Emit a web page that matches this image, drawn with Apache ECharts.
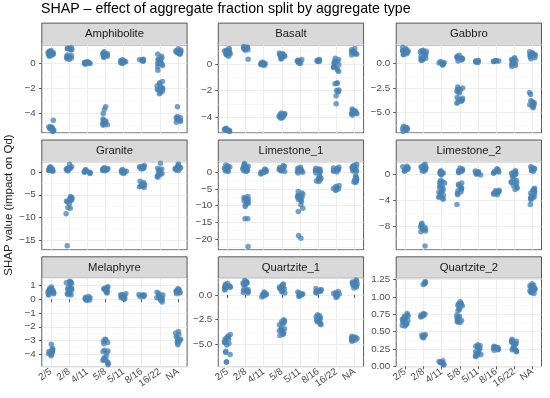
<!DOCTYPE html>
<html><head><meta charset="utf-8">
<script src="https://cdn.jsdelivr.net/npm/echarts@6/dist/echarts.min.js"></script>
<style>html,body{margin:0;padding:0;background:#fff}#c{width:550px;height:398px}</style>
</head><body><div id="c"></div>
<script>
const categories = ['2/5','2/8','4/11','5/8','5/11','8/16','16/22','NA'];
const panelNames = ['Amphibolite','Basalt','Gabbro','Granite','Limestone_1','Limestone_2','Melaphyre','Quartzite_1','Quartzite_2'];

const amphibolite = [
  [1.05,0.95,0.9,0.85,0.8,0.75,0.7,0.65,0.6,0.9,0.8,0.7,1.0,0.75,-4.6,-5.1,-5.15,-5.2,-5.25,-5.3,-5.35,-5.4,-5.45,-5.5,-5.2,-5.3],
  [1.3,1.25,1.2,1.15,1.1,1.25,1.2,0.7,0.6,0.55,0.5,0.45,0.4,0.35,0.65,0.5],
  [0.15,0.1,0.05,0.0,-0.05,0.1,0.05,0.0,0.08,0.02],
  [0.95,0.85,0.8,0.75,0.7,0.65,0.6,0.55,0.5,0.8,0.7,0.6,-3.5,-3.7,-4.05,-4.5,-4.6,-4.7,-4.8,-4.9,-5.0,-4.65,-4.85,-4.95],
  [0.3,0.25,0.2,0.15,0.1,0.05,0.0,0.2,0.15,0.1],
  [0.35,0.3,0.25,0.2,0.3,0.25,0.2,0.28],
  [0.75,0.6,0.45,0.35,0.25,0.15,0.05,-0.05,-0.15,-0.25,0.3,0.1,0.0,-0.55,-1.45,-1.55,-1.65,-1.8,-1.95,-2.05,-2.15,-2.25,-2.35,-2.45,-1.9,-2.1],
  [1.2,1.1,1.05,1.0,0.95,0.9,0.85,0.8,0.75,1.0,0.9,-3.5,-4.3,-4.4,-4.5,-4.55,-4.6,-4.7,-4.75,-4.5,-4.4]
];
const basalt = [
  [1.2,1.1,1.05,1.0,0.95,0.9,0.85,0.8,0.75,0.7,0.6,1.0,0.9,0.8,-4.85,-4.9,-4.95,-5.0,-5.05,-5.1,-4.95,-5.0],
  [1.35,1.3,1.25,1.2,1.15,1.1,1.05,1.25,1.2,0.38],
  [0.15,0.1,0.05,0.0,-0.05,-0.1,0.05,0.0,0.1],
  [0.85,0.8,0.75,0.7,0.65,0.6,0.55,0.5,0.45,0.4,0.7,0.6,-3.7,-3.75,-3.8,-3.85,-3.9,-3.95,-4.0,-4.05,-4.1,-3.8,-3.9,-4.0],
  [0.35,0.3,0.25,0.2,0.15,0.1,0.05,0.25,0.2],
  [0.35,0.3,0.25,0.2,0.3,0.25,0.28,0.22],
  [0.45,0.35,0.25,0.15,0.05,-0.05,-0.15,-0.25,-0.35,-0.45,-0.55,0.2,0.0,-0.2,-1.42,-1.45,-1.48,-1.95,-2.0,-2.05,-2.1,-2.4,-3.0],
  [1.2,1.1,1.0,0.95,0.9,0.85,0.8,0.75,0.7,0.9,0.85,-3.4,-3.5,-3.55,-3.6,-3.65,-3.7,-3.75,-3.8,-3.85,-3.6,-3.7]
];
const gabbro = [
  [1.65,1.5,1.4,1.3,1.25,1.2,1.15,1.1,1.0,0.95,0.9,1.3,1.2,-6.4,-6.5,-6.55,-6.6,-6.65,-6.7,-6.8,-6.9,-6.6,-6.7],
  [1.35,1.3,1.25,1.2,1.15,1.1,1.0,0.9,0.75,0.65,0.55,0.45,0.35,0.3,0.5,0.4],
  [0.2,0.1,0.05,0.0,-0.05,-0.1,-0.15,0.05,0.0],
  [0.85,0.75,0.65,0.55,0.45,0.35,0.25,0.6,0.5,-2.4,-2.5,-2.6,-2.7,-2.8,-2.9,-3.0,-2.65,-3.45,-3.55,-3.65,-3.75,-3.85,-3.95,-4.05,-3.7],
  [0.3,0.25,0.2,0.15,0.1,0.25,0.2,0.15],
  [0.3,0.25,0.2,0.28,0.22,0.25],
  [0.6,0.5,0.4,0.3,0.2,0.1,0.0,-0.1,-0.2,-0.3,0.3,0.1,0.0],
  [1.2,1.1,1.0,0.95,0.9,0.85,0.8,0.7,0.6,0.5,0.9,-2.95,-3.15,-3.8,-3.9,-4.0,-4.1,-4.2,-4.3,-4.4,-4.5,-4.2]
];
const granite = [
  [1.2,1.0,0.9,0.8,0.7,0.6,0.5,0.4,0.3,0.2,0.8,0.6],
  [1.75,1.2,1.0,0.9,0.8,0.7,0.6,0.5,0.4,0.3,0.8,-5.4,-5.6,-5.8,-6.0,-6.2,-6.4,-6.6,-6.0,-6.3,-7.0,-7.8,-8.0,-9.2,-16.3],
  [0.6,0.4,0.2,0.1,0.0,-0.1,-0.3,0.2,0.0],
  [1.0,0.9,0.8,0.7,0.6,0.5,0.4,0.3,0.6,0.5],
  [0.6,0.4,0.2,0.1,0.0,-0.1,-0.3,0.2,0.0],
  [1.5,1.3,1.2,1.1,1.0,0.9,0.8,0.7,1.0,-2.0,-2.3,-2.6,-2.8,-3.0,-3.2,-3.4,-2.7,-2.9,-3.1],
  [2.0,0.9,0.7,0.5,0.3,0.1,-0.1,-0.3,-0.5,-0.7,-0.9,-1.1,0.2,-0.2],
  [1.8,1.5,1.3,1.1,1.0,0.9,0.8,0.7,0.5,0.4,1.0]
];
const limestone1 = [
  [2.2,1.9,1.6,1.4,1.2,1.0,0.8,0.6,0.4,0.2,1.0,0.7],
  [2.6,2.3,2.0,1.8,1.6,1.4,1.2,1.0,0.8,0.6,0.4,0.2,1.5,1.0,-7.3,-7.6,-7.9,-8.2,-8.5,-8.8,-9.1,-9.3,-8.0,-8.6,-9.8,-10.3,-14.0,-14.0,-22.3],
  [1.0,0.7,0.5,0.3,0.1,-0.1,-0.3,-0.5,0.2,0.0],
  [2.0,1.7,1.4,1.2,1.0,0.8,0.6,0.4,0.2,1.0,0.8],
  [1.5,1.2,1.0,0.8,0.6,0.4,0.2,0.0,-0.2,0.6,-5.8,-6.2,-6.6,-7.0,-7.3,-7.6,-7.9,-8.2,-8.5,-8.8,-7.0,-7.5,-9.8,-10.8,-11.8,-19.0,-19.8],
  [1.2,1.0,0.8,0.6,0.4,0.2,0.0,-0.2,0.5,-1.1,-1.4,-1.7,-2.0,-2.3,-2.6,-2.8,-1.9],
  [1.5,1.3,1.1,0.9,0.7,0.5,0.3,0.1,0.8,-4.0,-4.3,-4.6,-4.9,-5.2,-5.5,-4.8,-5.0],
  [2.4,2.1,1.8,1.6,1.4,1.2,1.0,0.8,0.6,0.4,0.2,1.5,-1.1,-1.4,-1.7,-2.0,-2.3,-2.6,-2.9,-3.1,-2.0]
];
const limestone2 = [
  [1.2,1.1,1.0,0.9,0.8,0.7,0.6,0.5,0.4,0.8,0.7],
  [1.5,1.35,1.2,1.1,1.0,0.9,0.8,0.7,0.6,0.5,0.4,1.0,-7.6,-7.8,-8.0,-8.2,-8.4,-8.6,-8.8,-8.9,-8.2,-8.5,-11.1],
  [0.5,0.35,0.25,0.15,0.05,-0.05,-0.15,0.2,-1.0,-1.2,-1.4,-1.6,-1.9,-2.1,-2.3,-2.6,-2.8,-3.0,-3.3,-3.5,-3.7,-3.9,-1.3,-2.0,-2.8,-3.6],
  [0.9,0.75,0.6,0.5,0.4,0.3,0.2,0.6,-1.4,-1.6,-1.8,-2.0,-2.2,-2.4,-2.6,-2.8,-3.0,-3.2,-2.3,-4.7],
  [0.45,0.35,0.25,0.15,0.05,-0.05,-0.15,0.2,0.1],
  [0.8,0.65,0.5,0.4,0.3,0.2,0.1,0.5,-2.5,-2.6,-2.7,-2.8,-2.9,-3.0,-3.1,-3.2,-2.8],
  [0.5,0.35,0.2,0.05,-0.1,-0.25,-0.4,0.1,-0.8,-1.0,-1.2,-1.4,-1.6,-1.8,-2.0,-2.2,-2.4,-1.3],
  [1.1,0.95,0.8,0.7,0.6,0.5,0.4,0.8,-2.2,-2.35,-2.5,-2.65,-2.8,-2.95,-3.1,-2.6,-3.4,-3.5,-3.6,-3.7,-3.8,-4.0,-4.7]
];
const melaphyre = [
  [0.88,0.8,0.75,0.7,0.65,0.6,0.55,0.5,0.45,0.4,0.35,0.3,0.6,-3.26,-3.55,-3.65,-3.7,-3.75,-3.8,-3.85,-3.9,-3.95,-4.0,-4.1,-3.8],
  [1.3,1.25,1.2,1.15,1.1,1.2,0.85,0.8,0.75,0.7,0.65,0.5,0.45,0.4,0.35,0.3,0.75,0.45],
  [0.2,0.15,0.1,0.05,0.0,-0.05,-0.1,0.05],
  [0.9,0.85,0.8,0.75,0.7,0.65,0.6,0.55,0.5,0.45,0.7,-2.9,-2.95,-3.05,-3.15,-3.24,-3.7,-3.75,-3.8,-3.9,-4.15,-4.25,-4.35,-4.45,-4.55,-4.65,-4.75,-4.4],
  [0.4,0.35,0.3,0.25,0.2,0.15,0.1,0.05,0.0,0.2],
  [0.35,0.3,0.25,0.2,0.3,0.25,0.2],
  [0.5,0.4,0.3,0.2,0.1,0.0,-0.1,-0.2,0.3,0.1,0.0],
  [0.75,0.7,0.65,0.6,0.55,0.5,0.45,0.4,0.6,-2.35,-2.45,-2.55,-2.7,-2.8,-2.9,-3.0,-3.1,-3.2,-3.3,-2.95,-3.05]
];
const quartzite1 = [
  [1.15,1.05,0.95,0.9,0.85,0.8,0.75,0.7,0.6,0.5,0.9,0.8,-4.0,-4.15,-4.3,-4.45,-4.6,-4.75,-4.9,-5.05,-4.3,-4.5,-4.8,-5.67,-5.8,-6.0,-6.77,-6.77],
  [1.45,1.35,1.25,1.2,1.15,1.05,1.0,1.2,0.65,0.55,0.45,0.35,0.25,0.2,0.4,0.45],
  [0.3,0.2,0.1,0.05,0.0,-0.1,-0.2,0.05,0.0],
  [1.1,1.0,0.9,0.8,0.7,0.6,0.5,0.4,0.3,0.2,0.8,0.6,-2.5,-2.6,-2.7,-2.8,-2.9,-3.0,-2.75,-3.3,-3.4,-3.5,-3.6,-3.7,-3.8,-3.9,-4.0,-4.1,-3.6],
  [0.3,0.2,0.1,0.05,0.0,-0.1,-0.15,0.1],
  [0.65,0.55,0.45,0.4,0.35,0.25,0.2,0.45,-2.0,-2.1,-2.2,-2.3,-2.4,-2.5,-2.6,-2.7,-2.8,-2.9,-3.0,-2.5],
  [0.35,0.25,0.15,0.05,-0.05,-0.15,-0.25,0.1,0.0],
  [1.5,1.4,1.3,1.2,1.1,1.0,0.9,0.8,0.7,1.2,1.0,-4.17,-4.25,-4.3,-4.35,-4.4,-4.45,-4.5,-4.55,-4.6,-4.67,-4.4]
];
const quartzite2 = [
  [0.76,0.74,0.72,0.7,0.69,0.68,0.67,0.66,0.65,0.64,0.72,0.7,0.62,0.61,0.6,0.59,0.58],
  [1.22,1.21,1.2,1.19,1.18,0.76,0.75,0.74,0.73,0.72,0.71,0.74,0.46,0.45,0.44,0.43,0.42,0.41],
  [0.08,0.07,0.06,0.05,0.04,0.03,0.02,0.06,0.05],
  [0.93,0.91,0.9,0.89,0.88,0.87,0.84,0.82,0.8,0.74,0.72,0.7,0.69,0.68,0.67,0.66,0.65,0.64,0.63,0.7],
  [0.31,0.3,0.29,0.28,0.27,0.26,0.25,0.21,0.2,0.19,0.18,0.17,0.16,0.15,0.14],
  [0.29,0.28,0.27,0.26,0.25,0.24,0.23,0.27],
  [0.39,0.37,0.36,0.35,0.34,0.33,0.32,0.31,0.3,0.35,0.26,0.25,0.24,0.23,0.22,0.21],
  [1.19,1.17,1.16,1.15,1.14,1.13,1.12,1.11,1.1,1.09,1.08,1.07,1.06,1.05,1.13]
];
const panelData = [amphibolite, basalt, gabbro, granite, limestone1, limestone2, melaphyre, quartzite1, quartzite2];

// y axis ranges: [min, max, tick step, label decimals]
const yMin = [-5.62, -5.21, -7.07, -17.2, -23.3, -11.7, -4.89, -7.23, -0.004];
const yMax = [1.53, 1.48, 1.92, 2.35, 3.2, 1.9, 1.51, 1.67, 1.267];
const yStep = [2, 2, 2.5, 5, 5, 4, 1, 2.5, 0.25];
const yDec = [0, 0, 1, 0, 0, 0, 0, 1, 2];

const FONT = 'Liberation Sans, Arial, sans-serif';
const colLeft = [41.8, 218.3, 396.2];
const panelW = 145.3;
const rowTop = [44.7, 161.6, 278.4];
const panelH = 88.2;
const stripH = 21.6;

const grids = [], xAxes = [], yAxes = [], series = [], graphics = [];

graphics.push({type:'text', left: 41, top: 2, style:{text:'SHAP \u2013 effect of aggregate fraction split by aggregate type', font:'14.2px ' + FONT, fill:'#000'}});
graphics.push({type:'text', x: 3, y: 205, rotation: Math.PI/2, style:{text:'SHAP value (impact on Qd)', font:'11.5px ' + FONT, fill:'#1a1a1a', align:'center', verticalAlign:'top'}});

for (let p = 0; p < 9; p++) {
  const r = Math.floor(p / 3), c = p % 3;
  const bottomRow = r === 2;
  grids.push({left: colLeft[c], top: rowTop[r], width: panelW, height: panelH, show: true, borderColor: '#333', borderWidth: 0.8, backgroundColor: 'transparent', containLabel: false});
  xAxes.push({
    type: 'category', gridIndex: p, data: categories, boundaryGap: true,
    jitter: 6, jitterOverlap: true,
    axisLine: {show: false},
    axisTick: {show: bottomRow, alignWithLabel: true, length: 3, lineStyle: {color: '#333', width: 0.8}},
    axisLabel: {show: bottomRow, rotate: 35, fontSize: 9.8, color: '#4d4d4d', fontFamily: FONT, margin: 4, interval: 0},
    splitLine: {show: true, alignWithLabel: true, interval: 0, lineStyle: {color: '#ebebeb', width: 0.9}}
  });
  const dec = yDec[p];
  yAxes.push({
    type: 'value', gridIndex: p, min: yMin[p], max: yMax[p],
    minInterval: yStep[p], maxInterval: yStep[p],
    axisLine: {show: false},
    axisTick: {show: true, length: 3, lineStyle: {color: '#333', width: 0.8}},
    axisLabel: {fontSize: 9.8, color: '#4d4d4d', fontFamily: FONT, margin: 6, showMinLabel: false, showMaxLabel: false,
      formatter: v => { const s = Math.abs(v) < 1e-9 ? (0).toFixed(dec) : Number(v).toFixed(dec); return s.replace('-', '\u2212'); }},
    splitLine: {show: true, lineStyle: {color: '#ebebeb', width: 0.9}},
    minorTick: {show: false, splitNumber: 2},
    minorSplitLine: {show: true, lineStyle: {color: '#f3f3f3', width: 0.6}}
  });
  const pts = [];
  panelData[p].forEach((vals, i) => vals.forEach(v => pts.push([categories[i], v])));
  series.push({
    type: 'scatter', xAxisIndex: p, yAxisIndex: p, data: pts,
    symbolSize: 5.5, itemStyle: {color: '#4682B4', opacity: 0.75}, silent: true
  });
  const sTop = rowTop[r] - stripH;
  graphics.push({type:'rect', shape:{x: colLeft[c], y: sTop, width: panelW, height: stripH}, style:{fill:'#d9d9d9', stroke:'#333', lineWidth: 0.8}});
  graphics.push({type:'text', x: colLeft[c] + panelW/2, y: sTop + stripH/2, style:{text: panelNames[p], font:'11.3px ' + FONT, fill:'#1a1a1a', align:'center', verticalAlign:'middle'}});
}

const chart = echarts.init(document.getElementById('c'), null, {renderer: 'canvas'});
chart.setOption({animation: false, grid: grids, xAxis: xAxes, yAxis: yAxes, series: series, graphic: graphics});
</script></body></html>
